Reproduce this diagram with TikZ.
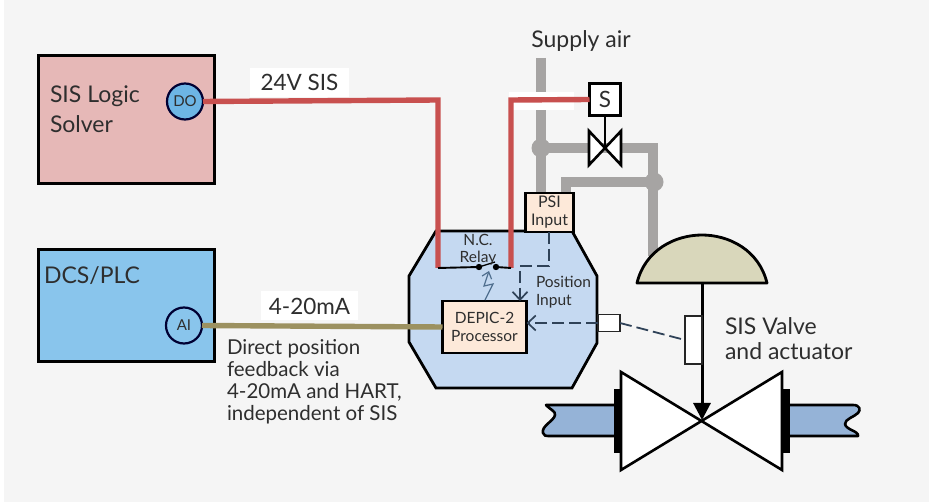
\documentclass[tikz,border=0pt]{standalone}
\usepackage{fontspec}
\setmainfont{Lato}
\usetikzlibrary{arrows.meta,calc}
\definecolor{bggray}{HTML}{F5F5F5}
\definecolor{txt}{HTML}{2E2E2E}
\definecolor{sispink}{HTML}{E6B8B7}
\definecolor{doblue}{HTML}{6DB5E5}
\definecolor{dcsblue}{HTML}{89C5EC}
\definecolor{wirered}{HTML}{C8504F}
\definecolor{wireolive}{HTML}{9C9160}
\definecolor{pipegray}{HTML}{A6A4A3}
\definecolor{peach}{HTML}{FDE9D9}
\definecolor{octblue}{HTML}{C5D9F1}
\definecolor{domekhaki}{HTML}{D9D7BB}
\definecolor{pipeblue}{HTML}{95B3D7}
\definecolor{dashblue}{HTML}{2F4258}
\definecolor{boltblue}{HTML}{4F6E8E}
\tikzset{
  x=1pt,y=-1pt,
  every node/.style={text=txt,inner sep=0pt,outer sep=0pt},
  bigbox/.style={draw=black,line width=3pt,minimum width=176pt,anchor=north west},
  peachbox/.style={draw=black,line width=2.8pt,fill=peach,align=center,font=\fontsize{16}{18}\selectfont},
  port/.style={circle,draw=black!80!blue,line width=2.2pt,minimum size=36pt,font=\fontsize{15}{17}\selectfont},
  whitelabel/.style={fill=white,font=\fontsize{22.5}{25}\selectfont},
  lab/.style={anchor=west,align=left,font=\fontsize{23}{30}\selectfont},
  redwire/.style={draw=wirered,line width=5.4pt},
  olivewire/.style={draw=wireolive,line width=5.4pt},
  pipe/.style={draw=pipegray,line width=10.5pt},
  pipedot/.style={circle,fill=pipegray,minimum size=19pt},
  dashwire/.style={draw=dashblue,line width=1.9pt,dash pattern=on 12pt off 5pt},
  openhead/.style={-{Straight Barb[length=8pt,width=15pt,line width=1.7pt]}},
  thinblack/.style={draw=black,line width=1.9pt},
  whitebox/.style={draw=black!85,line width=1.8pt,fill=white,minimum width=0pt},
}
\begin{document}
\begin{tikzpicture}
\useasboundingbox (0,0) rectangle (929,502);
\fill[white] (0,0) rectangle (929,502);
\fill[bggray] (4,0) rectangle (929,502);

% pipes (behind)
\coordinate (pa) at (541,58);
\coordinate (pb) at (541,193);
\node[pipedot] (j1) at (541,148) {};
\node[pipedot] (j2) at (654,182) {};
\coordinate (pc) at (653,148);
\coordinate (pd) at (653,256);
\coordinate (pe) at (566,182);
\coordinate (pf) at (566,193);
\draw[pipe] (pa) -- (pb);
\draw[pipe,line join=miter] (j1.center) -- (pc) -- (pd);
\draw[pipe,line join=miter] (j2.center) -- (pe) -- (pf);

% boxes
\node[bigbox,fill=sispink,minimum height=128pt] (sis) at (38,56) {};
\node[bigbox,fill=dcsblue,minimum height=112pt] (dcs) at (38,250) {};
\node[lab] (sistxt) at (50,109) {SIS Logic\\Solver};
\node[lab,anchor=base west,font=\fontsize{23}{30}\selectfont] (dcstxt) at (44,284) {DCS/PLC};
\node[port,fill=doblue] (do) at (185,101.5) {DO};
\node[port,fill=dcsblue] (ai) at (184,325.5) {AI};

% octagon
\path[draw=black,line width=2.8pt,fill=octblue,line join=miter]
  (436,231) -- (572,231) -- (597,276) -- (597,343) -- (572,388) -- (436,388) -- (409,342) -- (409,276) -- cycle;

% white label patches and red wires
\node[whitelabel,minimum width=99pt,minimum height=29pt] (l24) at (299.5,82.5) {\raisebox{-2pt}{24V SIS}};
\node[fill=white,minimum width=65pt,minimum height=18pt] (patch) at (541.5,101) {};
\node[draw=black,line width=2.6pt,fill=white,minimum width=31pt,minimum height=32pt,font=\fontsize{22.5}{25}\selectfont] (s) at (605,99.5) {S};
\coordinate (r1a) at (438,100);
\coordinate (r1b) at (438,268);
\coordinate (r2a) at (511,100);
\coordinate (r2b) at (511,268);
\draw[redwire,line join=miter] (do.east) -- (r1a) -- (r1b);
\draw[redwire,line join=miter] (s.west) -- (r2a) -- (r2b);

% solenoid valve
\coordinate (sv) at (605,148);
\path[draw=black,line width=2.6pt,fill=white,line join=miter]
  (589,131) -- (589,165) -- (621,131) -- (621,165) -- cycle;
\draw[line width=2.8pt] (s.south) -- (sv);

% PSI and DEPIC
\node[peachbox,minimum width=48pt,minimum height=39pt] (psi) at (549.5,212.5) {PSI\\Input};
\node[peachbox,minimum width=84pt,minimum height=52pt,font=\fontsize{15.5}{18}\selectfont] (depic) at (484.5,327) {DEPIC-2\\Processor};

% relay
\coordinate (d1) at (479,267);
\coordinate (d2) at (496,267);
\fill (d1) circle (3.2pt) (d2) circle (3.2pt);
\draw[thinblack] (r1b) -- (d1);
\draw[thinblack] (d2) -- (r2b);
\draw[draw=black,line width=1.3pt] (d1) -- (495,262);
\node[align=center,font=\fontsize{15.5}{17}\selectfont] (relay) at (478,250) {N.C.\\Relay};

% bolt
\draw[draw=boltblue,line width=1.2pt,-{Straight Barb[length=6pt,width=10pt]}]
  (485,300) -- (493,284) -- (484,286) -- (489,271);

% dashed signals
\coordinate (q1) at (549,266);
\coordinate (q2) at (520,266);
\draw[dashwire,openhead] (psi.south -| q1) -- (q1) -- (q2) -- (q2 |- depic.north);
\node[whitebox,minimum width=22pt,minimum height=17pt] (sm) at (609,323) {};
\draw[dashwire,openhead] (sm.west) -- (depic.east |- sm.west);
\node[align=left,anchor=west,font=\fontsize{15.5}{18}\selectfont] (posinp) at (536,292) {Position\\Input};

% main valve
\path[draw=black,line width=2.8pt,fill=domekhaki,line join=round]
  (637,283) .. controls (645,250) and (675,235) .. (702,235) .. controls (729,235) and (759,250) .. (767,283) -- cycle;
\coordinate (dometop) at (702,283);
\coordinate (vc) at (702,420);
% valve pipes
\path[draw=black,line width=2.6pt,fill=pipeblue,line join=round]
  (616,405) -- (546,405) .. controls (549,409) and (556,411) .. (555,415) .. controls (554,421) and (541,426) .. (543,433) .. controls (544,436) and (546,436) .. (548,436) -- (616,436);
\path[draw=black,line width=2.6pt,fill=pipeblue,line join=round]
  (788,405) -- (853,405) .. controls (860,405) and (861,410) .. (858,413) .. controls (854,417) and (845,419) .. (845,424) .. controls (846,430) and (859,431) .. (858,436) -- (788,436);
\fill[black] (614,389) rectangle (622,453);
\fill[black] (782,389) rectangle (790,453);
\path[draw=black,line width=2.6pt,fill=white,line join=miter]
  (621,372) -- (621,470) -- (782,372) -- (782,470) -- cycle;
\draw[line width=3pt,-{Triangle[length=17pt,width=17pt]}] (dometop) -- (vc);
\node[whitebox,minimum width=17pt,minimum height=48pt] (tall) at (693.5,340) {};
\draw[draw=dashblue,line width=1.8pt,dash pattern=on 12pt off 5pt] (sm.east) -- (tall.west);

% labels
\node[whitelabel,minimum width=97pt,minimum height=29pt] (l420) at (309.5,306) {4-20mA};
\draw[olivewire] (ai.east) -- (depic.west);
\node[lab,font=\fontsize{20.5}{22}\selectfont] (fb) at (227,382) {Direct position\\feedback via\\4-20mA and HART,\\independent of SIS};
\node[lab,font=\fontsize{23}{25}\selectfont] (val) at (725,339) {SIS Valve\\and actuator};
\node[font=\fontsize{23}{26}\selectfont] (air) at (581,41) {Supply air};
\end{tikzpicture}
\end{document}
